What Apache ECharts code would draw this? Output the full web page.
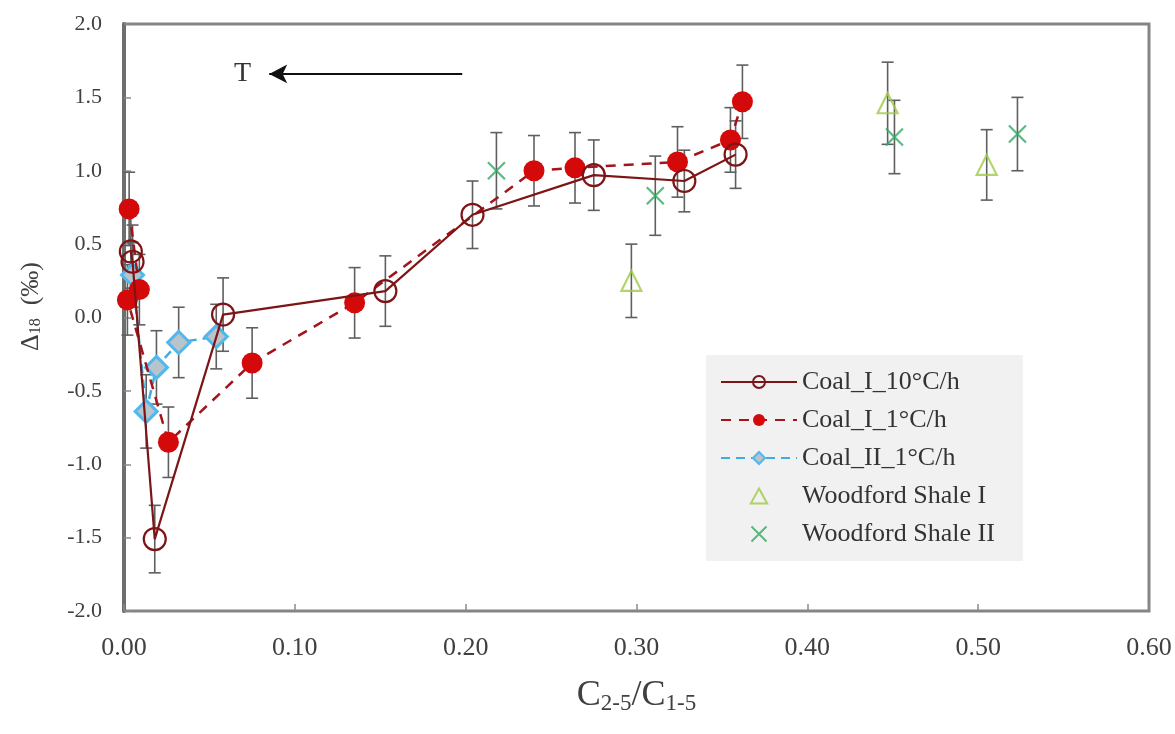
<!DOCTYPE html>
<html>
<head>
<meta charset="utf-8">
<script src="https://cdn.jsdelivr.net/npm/echarts@6/dist/echarts.min.js"></script>
<style>
html,body{margin:0;padding:0;background:#fff;}
#chart{width:1175px;height:734px;}
</style>
</head>
<body>
<div id="chart"></div>
<script>
// ---- data ----
const xTicks = [0.0, 0.1, 0.2, 0.3, 0.4, 0.5, 0.6];
const yTicks = [-2.0, -1.5, -1.0, -0.5, 0.0, 0.5, 1.0, 1.5, 2.0];

const coalI10Name = 'Coal_I_10°C/h';
const coalI10X = [0.004, 0.005, 0.018, 0.058, 0.153, 0.204, 0.275, 0.328, 0.358];
const coalI10Y = [0.45, 0.38, -1.51, 0.02, 0.18, 0.70, 0.97, 0.93, 1.11];
const coalI10E = [0.25, 0.25, 0.23, 0.25, 0.24, 0.23, 0.24, 0.21, 0.23];

const coalI1Name = 'Coal_I_1°C/h';
const coalI1X = [0.003, 0.009, 0.002, 0.026, 0.075, 0.135, 0.240, 0.264, 0.324, 0.355, 0.362];
const coalI1Y = [0.74, 0.19, 0.12, -0.85, -0.31, 0.10, 1.00, 1.02, 1.06, 1.21, 1.47];
const coalI1E = [0.25, 0.24, 0.24, 0.24, 0.24, 0.24, 0.24, 0.24, 0.24, 0.22, 0.25];

const coalII1Name = 'Coal_II_1°C/h';
const coalII1X = [0.005, 0.013, 0.019, 0.032, 0.054];
const coalII1Y = [0.29, -0.64, -0.34, -0.17, -0.13];
const coalII1E = [0.22, 0.25, 0.25, 0.24, 0.22];

const wsIName = 'Woodford Shale I';
const wsIX = [0.297, 0.447, 0.505];
const wsIY = [0.25, 1.46, 1.04];
const wsIE = [0.25, 0.28, 0.24];

const wsIIName = 'Woodford Shale II';
const wsIIX = [0.218, 0.311, 0.451, 0.523];
const wsIIY = [1.00, 0.83, 1.23, 1.25];
const wsIIE = [0.26, 0.27, 0.25, 0.25];

const arrowFrom = [0.198, 1.66];
const arrowTo = [0.085, 1.66];
const arrowText = 'T';

// ---- helpers ----
const pts = (xs, ys) => xs.map((x, i) => [x, ys[i]]);
const errPts = (xs, ys, es) => xs.map((x, i) => [x, ys[i] - es[i], ys[i] + es[i]]);

function errSeries(xs, ys, es) {
  return {
    type: 'custom',
    silent: true,
    z: 1,
    data: errPts(xs, ys, es),
    renderItem: function (params, api) {
      const lo = api.coord([api.value(0), api.value(1)]);
      const hi = api.coord([api.value(0), api.value(2)]);
      const w = 6;
      const st = { stroke: '#5f5f5f', lineWidth: 1.6 };
      return {
        type: 'group',
        children: [
          { type: 'line', shape: { x1: lo[0], y1: lo[1], x2: hi[0], y2: hi[1] }, style: st },
          { type: 'line', shape: { x1: lo[0] - w, y1: lo[1], x2: lo[0] + w, y2: lo[1] }, style: st },
          { type: 'line', shape: { x1: hi[0] - w, y1: hi[1], x2: hi[0] + w, y2: hi[1] }, style: st }
        ]
      };
    }
  };
}

const serif = 'Liberation Serif, Times New Roman, serif';
const crossPath = 'path://M0,0L10,10M10,0L0,10';
const triPath = 'path://M6,0L12,11L0,11Z';

const chart = echarts.init(document.getElementById('chart'), null, { renderer: 'canvas' });

const option = {
  backgroundColor: '#ffffff',
  animation: false,
  textStyle: { fontFamily: serif },
  grid: {
    left: 124, right: 26, top: 24, bottom: 123,
    show: true, borderColor: '#858585', borderWidth: 3, backgroundColor: 'transparent'
  },
  legend: {
    orient: 'vertical',
    left: 706, top: 355,
    padding: [14, 28, 14, 14],
    backgroundColor: '#f1f1f1',
    itemWidth: 76, itemHeight: 15, itemGap: 12,
    data: [coalI10Name, coalI1Name, coalII1Name, wsIName, wsIIName],
    textStyle: { fontFamily: serif, fontSize: 26, color: '#333333', lineHeight: 24, padding: [0, 0, 0, 0] }
  },
  xAxis: {
    type: 'value',
    min: xTicks[0], max: xTicks[xTicks.length - 1], interval: 0.1,
    name: '{a|C}{s|2-5}{a|/C}{s|1-5}',
    nameLocation: 'middle', nameGap: 66,
    nameTextStyle: {
      rich: {
        a: { fontFamily: serif, fontSize: 36, color: '#404040' },
        s: { fontFamily: serif, fontSize: 23, color: '#404040', verticalAlign: 'bottom', padding: [15, 0, 0, 0] }
      }
    },
    axisLine: { show: false, onZero: false },
    axisTick: { show: true, inside: true, length: 7, lineStyle: { color: '#8a8a8a', width: 1.5 } },
    splitLine: { show: false },
    axisLabel: {
      margin: 24, fontFamily: serif, fontSize: 26, color: '#404040',
      formatter: v => v.toFixed(2)
    }
  },
  yAxis: {
    type: 'value',
    min: yTicks[0], max: yTicks[yTicks.length - 1], interval: 0.5,
    name: '{a|Δ}{s|18}{a|  (‰)}',
    nameLocation: 'middle', nameGap: 80, nameRotate: 90,
    nameTextStyle: {
      padding: [0, 0, 0, 22],
      rich: {
        a: { fontFamily: serif, fontSize: 26, color: '#404040' },
        s: { fontFamily: serif, fontSize: 16, color: '#404040', verticalAlign: 'bottom', padding: [10, 0, 0, 0] }
      }
    },
    axisLine: { show: true, onZero: false, lineStyle: { color: '#6e6e6e', width: 4 } },
    axisTick: { show: true, inside: true, length: 7, lineStyle: { color: '#8a8a8a', width: 1.5 } },
    splitLine: { show: false },
    axisLabel: {
      margin: 22, fontFamily: serif, fontSize: 22, color: '#404040',
      formatter: v => v.toFixed(1)
    }
  },
  series: [
    errSeries(coalI10X, coalI10Y, coalI10E),
    errSeries(coalI1X, coalI1Y, coalI1E),
    errSeries(coalII1X, coalII1Y, coalII1E),
    errSeries(wsIX, wsIY, wsIE),
    errSeries(wsIIX, wsIIY, wsIIE),
    {
      name: wsIName, type: 'scatter', z: 3,
      symbol: triPath, symbolSize: [20, 20],
      itemStyle: { color: 'rgba(255,255,255,0)', borderColor: '#9dcb45', borderWidth: 2.2 },
      data: pts(wsIX, wsIY)
    },
    {
      name: wsIIName, type: 'scatter', z: 3,
      symbol: crossPath, symbolSize: 17,
      itemStyle: { color: 'rgba(255,255,255,0)', borderColor: '#2eaa62', borderWidth: 2.2 },
      data: pts(wsIIX, wsIIY)
    },
    {
      name: coalII1Name, type: 'line', z: 4,
      symbol: 'diamond', symbolSize: 22,
      lineStyle: { color: '#40ace2', width: 2.5, type: [9, 6] },
      itemStyle: { color: '#b8c3cb', borderColor: '#50b8ea', borderWidth: 3 },
      data: pts(coalII1X, coalII1Y)
    },
    {
      name: coalI1Name, type: 'line', z: 5,
      symbol: 'circle', symbolSize: 21,
      lineStyle: { color: '#a3141c', width: 2.5, type: [10, 8] },
      itemStyle: { color: '#d40a0a', borderColor: '#d40a0a', borderWidth: 0 },
      data: pts(coalI1X, coalI1Y)
    },
    {
      name: coalI10Name, type: 'line', z: 6,
      symbol: 'circle', symbolSize: 22,
      lineStyle: { color: '#7d1416', width: 2.2 },
      itemStyle: { color: 'rgba(255,255,255,0)', borderColor: '#7d1416', borderWidth: 2.2 },
      data: pts(coalI10X, coalI10Y),
      markLine: {
        silent: true,
        symbol: ['none', 'arrow'],
        symbolSize: [14, 18],
        lineStyle: { color: '#111111', width: 2, type: 'solid' },
        label: {
          show: true, position: 'end', distance: 18,
          formatter: arrowText, fontFamily: serif, fontSize: 28, color: '#333333'
        },
        data: [[{ coord: arrowFrom }, { coord: arrowTo }]]
      }
    }
  ]
};
chart.setOption(option);
</script>
</body>
</html>
